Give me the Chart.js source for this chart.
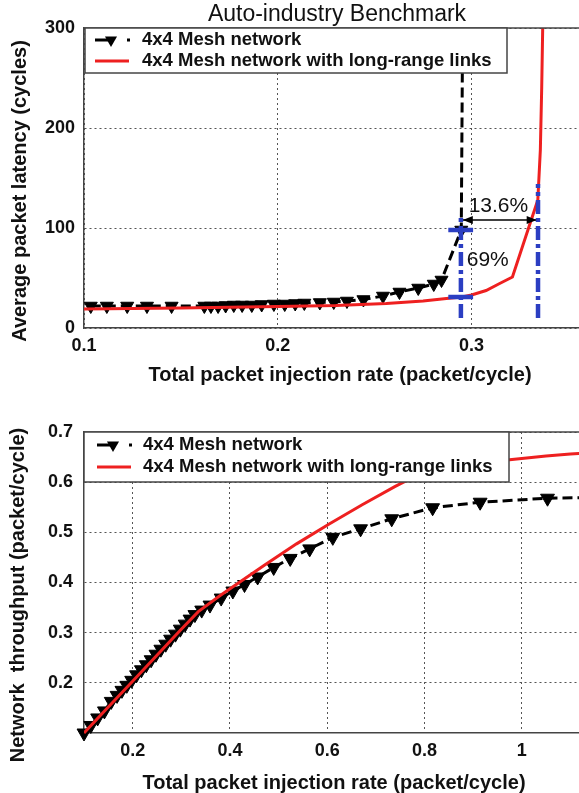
<!DOCTYPE html>
<html>
<head>
<meta charset="utf-8">
<title>Auto-industry Benchmark</title>
<script src="https://cdn.jsdelivr.net/npm/chart.js@4.4.1/dist/chart.umd.min.js"></script>
<style>
  html, body { margin: 0; padding: 0; background: #fff; overflow: hidden; }
  .plot { position: absolute; left: 0; }
</style>
</head>
<body>
<div class="plot" style="top:0"><canvas id="latency" width="600" height="400"></canvas></div>
<div class="plot" style="top:400px"><canvas id="throughput" width="600" height="393"></canvas></div>
<script>
let FONT = '"Liberation Sans", Arial, Helvetica, sans-serif';

let seriesNames = ["4x4 Mesh network", "4x4 Mesh network with long-range links"];

// latency vs. injection rate
let latRateMesh = [0.1035, 0.1118, 0.1223, 0.1325, 0.1452, 0.1621, 0.1655, 0.1692, 0.1731, 0.1773, 0.1816, 0.1866, 0.1917, 0.198, 0.2036, 0.209, 0.2137, 0.2217, 0.2289, 0.2357, 0.2442, 0.2543, 0.2628, 0.2725, 0.2805, 0.2845, 0.2947, 0.2955];
let latMesh = [22, 22, 22, 22, 22, 22, 22, 22, 22.5, 23, 23, 23, 23.5, 24, 24, 24.5, 25, 25.5, 26, 27, 28.5, 32, 36, 40, 44, 48, 98, 330];
let latRateLong = [0.1, 0.15, 0.2, 0.23, 0.256, 0.275, 0.287, 0.295, 0.3, 0.3075, 0.3145, 0.3211, 0.3296, 0.3342, 0.3355, 0.3362, 0.3368];
let latLong = [19, 20, 21.5, 22.5, 24.5, 27, 29.5, 31, 33, 37.5, 44.5, 51, 101, 128, 178, 240, 310];
let latRateTicks = [0.1, 0.2, 0.3];
let latTicks = [0, 100, 200, 300];

// saturation points (blue dash-dot) and the gap between them
let satRate = [0.2945, 0.3343];
let satLow = [10, 10];
let satHigh = [114, 144];
let satBarRate = [0.288, 0.3008];
let satBarLevel = [98, 31];
let gapRate = [0.2955, 0.3336];
let gapLevel = 108;
let gapNotes = ["13.6%", "69%"];
let gapNoteRate = [0.2985, 0.2975];
let gapNoteLevel = [122, 67.5];

// throughput vs. injection rate
let thrRateMesh = [0.1, 0.114, 0.128, 0.142, 0.156, 0.168, 0.178, 0.188, 0.198, 0.208, 0.218, 0.228, 0.238, 0.248, 0.258, 0.268, 0.278, 0.288, 0.298, 0.308, 0.318, 0.328, 0.342, 0.359, 0.382, 0.406, 0.43, 0.457, 0.49, 0.524, 0.564, 0.6115, 0.6687, 0.7327, 0.8168, 0.9145, 1.053, 1.2];
let thrMesh = [0.1, 0.115, 0.13, 0.144, 0.163, 0.175, 0.185, 0.195, 0.205, 0.216, 0.226, 0.236, 0.246, 0.257, 0.267, 0.277, 0.287, 0.297, 0.307, 0.317, 0.327, 0.336, 0.345, 0.355, 0.369, 0.383, 0.396, 0.411, 0.43, 0.448, 0.467, 0.49, 0.507, 0.527, 0.549, 0.56, 0.568, 0.57];
let thrRateLong = [0.1, 0.15, 0.2, 0.25, 0.3, 0.335, 0.38, 0.422, 0.47, 0.537, 0.605, 0.672, 0.739, 0.765, 0.8, 0.85, 0.9, 0.96, 1.0, 1.05, 1.1, 1.15];
let thrLong = [0.1, 0.152, 0.203, 0.255, 0.307, 0.342, 0.374, 0.402, 0.434, 0.477, 0.517, 0.555, 0.591, 0.604, 0.617, 0.628, 0.636, 0.643, 0.647, 0.652, 0.656, 0.659];
let thrRateTicks = [0.2, 0.4, 0.6, 0.8, 1];
let thrTicks = [0.2, 0.3, 0.4, 0.5, 0.6, 0.7];

let black = '#000000';
let red = '#ee2020';
let blue = '#2b3ec2';
let ink = '#111111';

function pairs(xs, ys){
  return xs.map((x, i) => ({x: x, y: ys[i]}));
}

function meshSet(xs, ys, r){
  return {
    label: seriesNames[0], data: pairs(xs, ys),
    borderColor: black, borderWidth: 3, borderDash: [10, 5],
    pointStyle: 'triangle', pointRotation: 180, pointRadius: r,
    pointBackgroundColor: black, pointBorderColor: black, pointBorderWidth: 1,
    order: 2, clip: {left: 10, top: 0, right: 0, bottom: 10}
  };
}

function longSet(xs, ys){
  return {
    label: seriesNames[1], data: pairs(xs, ys),
    borderColor: red, borderWidth: 3, pointRadius: 0,
    order: 1, clip: {left: 0, top: 0, right: 0, bottom: 5}
  };
}

function segment(points, color, width, dash){
  return {
    data: points, borderColor: color, borderWidth: width, borderDash: dash,
    pointRadius: 0, order: 0, clip: false
  };
}

function axis(min, max, ticks, pad, size){
  return {
    type: 'linear', min: min, max: max,
    afterBuildTicks: s => { s.ticks = ticks.map(v => ({value: v})); },
    afterFit: s => { if (s.isHorizontal()) s.height = size; else s.width = size; },
    ticks: {
      font: {family: FONT, size: 18, weight: 'bold'}, color: ink, padding: pad,
      autoSkip: false, maxRotation: 0, callback: v => String(v)
    },
    grid: {color: '#555', lineWidth: 1, drawTicks: false},
    border: {color: '#444', width: 1.5, dash: [2, 3]}
  };
}

function drawLegend(ctx, lg){
  ctx.fillStyle = '#fff';
  ctx.fillRect(lg.x, lg.y, lg.w, lg.h);
  ctx.strokeStyle = '#444';
  ctx.lineWidth = 1.5;
  ctx.strokeRect(lg.x, lg.y, lg.w, lg.h);

  let y1 = lg.rows[0], y2 = lg.rows[1], sx = lg.sampleX;
  ctx.setLineDash([]);
  ctx.strokeStyle = black;
  ctx.lineWidth = 3;
  ctx.beginPath();
  ctx.moveTo(sx, y1);
  ctx.lineTo(sx + 14, y1);
  ctx.stroke();
  let cx = sx + 16, r = 7;
  ctx.fillStyle = black;
  ctx.beginPath();
  ctx.moveTo(cx - r * 0.866, y1 - r / 2);
  ctx.lineTo(cx + r * 0.866, y1 - r / 2);
  ctx.lineTo(cx, y1 + r);
  ctx.closePath();
  ctx.fill();
  ctx.fillRect(sx + 32, y1 - 1.5, 3, 3);

  ctx.strokeStyle = red;
  ctx.beginPath();
  ctx.moveTo(sx, y2);
  ctx.lineTo(sx + 34, y2);
  ctx.stroke();

  ctx.fillStyle = ink;
  ctx.font = 'bold 18.5px ' + FONT;
  ctx.textAlign = 'left';
  ctx.textBaseline = 'middle';
  ctx.fillText(seriesNames[0], lg.textX, y1);
  ctx.fillText(seriesNames[1], lg.textX, y2);
}

let decorations = {
  id: 'decorations',
  afterDatasetsDraw(chart, args, opts){
    let ctx = chart.ctx;
    let area = chart.chartArea;
    let xs = chart.scales.x, ys = chart.scales.y;
    ctx.save();

    // top edge of the frame
    ctx.strokeStyle = '#444';
    ctx.lineWidth = 1.5;
    ctx.beginPath();
    ctx.moveTo(area.left, area.top);
    ctx.lineTo(area.right, area.top);
    ctx.stroke();

    if (opts.arrow){
      let ax1 = xs.getPixelForValue(gapRate[0]);
      let ax2 = xs.getPixelForValue(gapRate[1]);
      let ay = ys.getPixelForValue(gapLevel);
      ctx.fillStyle = black;
      ctx.beginPath();
      ctx.moveTo(ax1, ay); ctx.lineTo(ax1 + 10, ay - 4); ctx.lineTo(ax1 + 10, ay + 4);
      ctx.closePath(); ctx.fill();
      ctx.beginPath();
      ctx.moveTo(ax2, ay); ctx.lineTo(ax2 - 10, ay - 4); ctx.lineTo(ax2 - 10, ay + 4);
      ctx.closePath(); ctx.fill();

      ctx.fillStyle = ink;
      ctx.font = '21px ' + FONT;
      ctx.textAlign = 'left';
      ctx.textBaseline = 'middle';
      for (let i = 0; i < gapNotes.length; i++){
        ctx.fillText(gapNotes[i], xs.getPixelForValue(gapNoteRate[i]), ys.getPixelForValue(gapNoteLevel[i]));
      }
    }

    drawLegend(ctx, opts.legend);

    // axis titles
    ctx.fillStyle = ink;
    ctx.font = 'bold 20px ' + FONT;
    ctx.textAlign = 'center';
    ctx.textBaseline = 'middle';
    ctx.fillText(opts.xTitle.text, opts.xTitle.x, opts.xTitle.y);
    ctx.save();
    ctx.translate(opts.yTitle.x, opts.yTitle.y);
    ctx.rotate(-Math.PI / 2);
    ctx.fillText(opts.yTitle.text, 0, 0);
    ctx.restore();

    if (opts.heading){
      ctx.font = '23px ' + FONT;
      ctx.fillText(opts.heading.text, opts.heading.x, opts.heading.y);
    }
    ctx.restore();
  }
};

let latencySets = [
  longSet(latRateLong, latLong),
  meshSet(latRateMesh, latMesh, 7.5)
];
for (let i = 0; i < satRate.length; i++){
  latencySets.push(segment([{x: satRate[i], y: satLow[i]}, {x: satRate[i], y: satHigh[i]}], blue, 4.5, [14, 4, 4, 4]));
  latencySets.push(segment([{x: satBarRate[0], y: satBarLevel[i]}, {x: satBarRate[1], y: satBarLevel[i]}], blue, 4.5, []));
}
latencySets.push(segment([{x: gapRate[0], y: gapLevel}, {x: gapRate[1], y: gapLevel}], black, 1.5, []));

new Chart(document.getElementById('latency'), {
  type: 'line',
  data: { datasets: latencySets },
  options: {
    responsive: false, animation: false, events: [],
    layout: { padding: {top: 28, left: 0, right: 0, bottom: 0} },
    scales: {
      x: axis(0.1, 0.3619, latRateTicks, 7, 72),
      y: axis(0, 300, latTicks, 9, 84)
    },
    plugins: {
      legend: {display: false}, tooltip: {enabled: false},
      decorations: {
        arrow: true,
        legend: {x: 85, y: 28, w: 422, h: 45, rows: [40, 61], sampleX: 95, textX: 142},
        xTitle: {text: 'Total packet injection rate (packet/cycle)', x: 340, y: 375},
        yTitle: {text: 'Average packet latency (cycles)', x: 20, y: 191},
        heading: {text: 'Auto-industry Benchmark', x: 337, y: 15}
      }
    }
  },
  plugins: [decorations]
});

new Chart(document.getElementById('throughput'), {
  type: 'line',
  data: {
    datasets: [
      longSet(thrRateLong, thrLong),
      meshSet(thrRateMesh, thrMesh, 8)
    ]
  },
  options: {
    responsive: false, animation: false, events: [],
    layout: { padding: {top: 32, left: 0, right: 0, bottom: 0} },
    scales: {
      x: axis(0.1, 1.1424, thrRateTicks, 7, 60),
      y: axis(0.1, 0.7, thrTicks, 11, 84)
    },
    plugins: {
      legend: {display: false}, tooltip: {enabled: false},
      decorations: {
        arrow: false,
        legend: {x: 84, y: 32, w: 425, h: 50, rows: [45, 67], sampleX: 97, textX: 143},
        xTitle: {text: 'Total packet injection rate (packet/cycle)', x: 334, y: 383},
        yTitle: {text: 'Network  throughput (packet/cycle)', x: 18, y: 195}
      }
    }
  },
  plugins: [decorations]
});
</script>
</body>
</html>
